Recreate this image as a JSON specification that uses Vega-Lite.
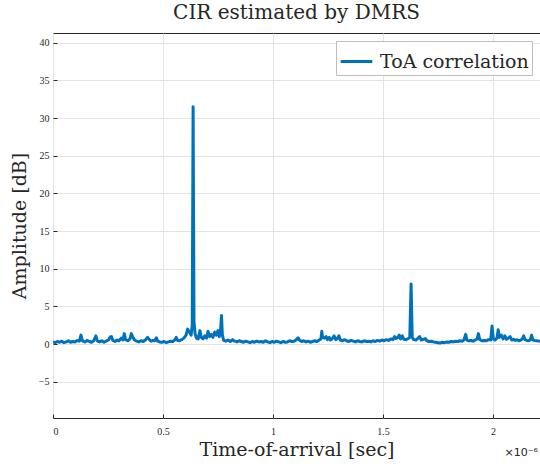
{
  "$schema": "https://vega.github.io/schema/vega-lite/v6.json",
  "autosize": {"type": "none"},
  "padding": {"left": 53, "top": 33, "right": 0, "bottom": 51},
  "width": 487,
  "height": 385,
  "background": "white",
  "config": {
    "font": "DejaVu Serif",
    "view": {"stroke": "#262626", "strokeWidth": 1},
    "axis": {"labelFont": "Liberation Serif", "labelFontSize": 10, "labelColor": "#262626", "gridColor": "#e3e3e3", "gridWidth": 1, "domain": false, "tickColor": "#262626", "tickSize": -4, "titleFont": "DejaVu Serif", "titleFontSize": 19, "titleFontWeight": "normal", "titleColor": "#262626"}
  },
  "title": {"text": "CIR estimated by DMRS", "font": "DejaVu Serif", "fontSize": 20, "fontWeight": "normal", "color": "#262626", "offset": 10},
  "layer": [
    {
      "data": {"values": [
    {"t":0.000,"a":0.30},{"t":0.010,"a":0.20},{"t":0.020,"a":0.35},{"t":0.030,"a":0.25},{"t":0.040,"a":0.40},{"t":0.050,"a":0.20},{"t":0.060,"a":0.30},{"t":0.070,"a":0.45},{"t":0.080,"a":0.25},{"t":0.090,"a":0.35},{"t":0.100,"a":0.30},{"t":0.110,"a":0.50},{"t":0.120,"a":0.40},{"t":0.127,"a":1.20},{"t":0.134,"a":0.45},{"t":0.145,"a":0.30},{"t":0.155,"a":0.50},{"t":0.165,"a":0.35},{"t":0.175,"a":0.25},{"t":0.185,"a":0.45},{"t":0.195,"a":1.10},{"t":0.202,"a":0.40},{"t":0.212,"a":0.30},{"t":0.222,"a":0.45},{"t":0.232,"a":0.25},{"t":0.242,"a":0.40},{"t":0.252,"a":0.55},{"t":0.260,"a":0.95},{"t":0.266,"a":1.00},{"t":0.272,"a":0.50},{"t":0.282,"a":0.35},{"t":0.292,"a":0.55},{"t":0.300,"a":0.45},{"t":0.310,"a":0.80},{"t":0.318,"a":0.55},{"t":0.324,"a":1.40},{"t":0.330,"a":0.60},{"t":0.340,"a":0.45},{"t":0.350,"a":0.70},{"t":0.356,"a":1.40},{"t":0.362,"a":1.00},{"t":0.370,"a":0.55},{"t":0.380,"a":0.40},{"t":0.390,"a":0.30},{"t":0.400,"a":0.45},{"t":0.410,"a":0.35},{"t":0.420,"a":0.55},{"t":0.430,"a":0.90},{"t":0.438,"a":0.60},{"t":0.446,"a":0.40},{"t":0.455,"a":0.50},{"t":0.462,"a":0.45},{"t":0.470,"a":0.85},{"t":0.476,"a":0.40},{"t":0.485,"a":0.30},{"t":0.495,"a":0.25},{"t":0.505,"a":0.35},{"t":0.515,"a":0.20},{"t":0.525,"a":0.30},{"t":0.535,"a":0.40},{"t":0.545,"a":0.35},{"t":0.555,"a":0.60},{"t":0.560,"a":0.90},{"t":0.566,"a":0.50},{"t":0.575,"a":0.45},{"t":0.585,"a":0.60},{"t":0.595,"a":0.80},{"t":0.605,"a":1.20},{"t":0.612,"a":2.00},{"t":0.620,"a":1.60},{"t":0.628,"a":1.20},{"t":0.633,"a":2.50},{"t":0.637,"a":31.5},{"t":0.641,"a":3.00},{"t":0.646,"a":1.40},{"t":0.652,"a":0.80},{"t":0.660,"a":0.70},{"t":0.668,"a":1.80},{"t":0.674,"a":0.90},{"t":0.682,"a":0.70},{"t":0.690,"a":1.10},{"t":0.698,"a":0.80},{"t":0.705,"a":1.70},{"t":0.712,"a":1.00},{"t":0.720,"a":1.30},{"t":0.727,"a":0.90},{"t":0.735,"a":1.60},{"t":0.742,"a":1.20},{"t":0.750,"a":1.80},{"t":0.756,"a":1.00},{"t":0.762,"a":2.00},{"t":0.766,"a":3.80},{"t":0.770,"a":1.20},{"t":0.776,"a":0.50},{"t":0.786,"a":0.40},{"t":0.796,"a":0.55},{"t":0.806,"a":0.35},{"t":0.816,"a":0.60},{"t":0.826,"a":0.40},{"t":0.836,"a":0.30},{"t":0.846,"a":0.45},{"t":0.856,"a":0.35},{"t":0.866,"a":0.25},{"t":0.876,"a":0.40},{"t":0.886,"a":0.30},{"t":0.896,"a":0.20},{"t":0.906,"a":0.35},{"t":0.916,"a":0.25},{"t":0.926,"a":0.40},{"t":0.936,"a":0.30},{"t":0.946,"a":0.35},{"t":0.956,"a":0.25},{"t":0.966,"a":0.45},{"t":0.976,"a":0.30},{"t":0.986,"a":0.20},{"t":0.996,"a":0.35},{"t":1.006,"a":0.25},{"t":1.016,"a":0.40},{"t":1.026,"a":0.30},{"t":1.036,"a":0.20},{"t":1.046,"a":0.35},{"t":1.056,"a":0.25},{"t":1.066,"a":0.30},{"t":1.076,"a":0.45},{"t":1.086,"a":0.35},{"t":1.096,"a":0.40},{"t":1.106,"a":0.60},{"t":1.114,"a":0.85},{"t":1.120,"a":0.55},{"t":1.130,"a":0.35},{"t":1.140,"a":0.45},{"t":1.150,"a":0.30},{"t":1.160,"a":0.40},{"t":1.170,"a":0.25},{"t":1.180,"a":0.35},{"t":1.190,"a":0.45},{"t":1.200,"a":0.35},{"t":1.210,"a":0.55},{"t":1.218,"a":0.70},{"t":1.222,"a":1.70},{"t":1.226,"a":0.90},{"t":1.234,"a":0.80},{"t":1.242,"a":1.00},{"t":1.248,"a":0.60},{"t":1.256,"a":0.90},{"t":1.262,"a":0.55},{"t":1.270,"a":0.75},{"t":1.278,"a":1.10},{"t":1.286,"a":0.60},{"t":1.294,"a":0.80},{"t":1.300,"a":1.10},{"t":1.306,"a":0.55},{"t":1.315,"a":0.45},{"t":1.325,"a":0.60},{"t":1.335,"a":0.45},{"t":1.345,"a":0.35},{"t":1.355,"a":0.50},{"t":1.365,"a":0.40},{"t":1.375,"a":0.30},{"t":1.385,"a":0.45},{"t":1.395,"a":0.35},{"t":1.405,"a":0.30},{"t":1.415,"a":0.45},{"t":1.425,"a":0.35},{"t":1.435,"a":0.40},{"t":1.445,"a":0.30},{"t":1.455,"a":0.45},{"t":1.465,"a":0.35},{"t":1.475,"a":0.50},{"t":1.485,"a":0.40},{"t":1.495,"a":0.55},{"t":1.505,"a":0.45},{"t":1.515,"a":0.60},{"t":1.525,"a":0.50},{"t":1.535,"a":0.70},{"t":1.545,"a":0.60},{"t":1.553,"a":1.00},{"t":1.560,"a":0.75},{"t":1.568,"a":0.90},{"t":1.574,"a":1.20},{"t":1.580,"a":0.70},{"t":1.588,"a":1.10},{"t":1.595,"a":0.65},{"t":1.605,"a":0.60},{"t":1.615,"a":0.75},{"t":1.622,"a":0.90},{"t":1.628,"a":8.00},{"t":1.633,"a":0.90},{"t":1.640,"a":0.60},{"t":1.650,"a":0.55},{"t":1.660,"a":0.80},{"t":1.667,"a":1.00},{"t":1.674,"a":0.55},{"t":1.684,"a":0.65},{"t":1.692,"a":0.75},{"t":1.700,"a":0.45},{"t":1.710,"a":0.35},{"t":1.720,"a":0.40},{"t":1.730,"a":0.30},{"t":1.740,"a":0.25},{"t":1.750,"a":0.20},{"t":1.760,"a":0.15},{"t":1.770,"a":0.25},{"t":1.780,"a":0.20},{"t":1.790,"a":0.30},{"t":1.800,"a":0.25},{"t":1.810,"a":0.35},{"t":1.820,"a":0.30},{"t":1.830,"a":0.40},{"t":1.840,"a":0.35},{"t":1.850,"a":0.45},{"t":1.860,"a":0.40},{"t":1.868,"a":0.55},{"t":1.876,"a":1.30},{"t":1.882,"a":0.55},{"t":1.890,"a":0.45},{"t":1.900,"a":0.50},{"t":1.910,"a":0.40},{"t":1.920,"a":0.55},{"t":1.928,"a":0.70},{"t":1.934,"a":1.40},{"t":1.940,"a":0.60},{"t":1.950,"a":0.45},{"t":1.960,"a":0.50},{"t":1.970,"a":0.45},{"t":1.980,"a":0.60},{"t":1.990,"a":0.55},{"t":1.996,"a":2.40},{"t":2.002,"a":0.70},{"t":2.010,"a":0.55},{"t":2.018,"a":0.80},{"t":2.024,"a":1.90},{"t":2.030,"a":0.90},{"t":2.038,"a":1.20},{"t":2.046,"a":0.70},{"t":2.054,"a":1.10},{"t":2.062,"a":0.65},{"t":2.070,"a":0.80},{"t":2.078,"a":1.00},{"t":2.086,"a":0.55},{"t":2.094,"a":0.65},{"t":2.102,"a":0.50},{"t":2.110,"a":0.60},{"t":2.118,"a":0.45},{"t":2.126,"a":0.55},{"t":2.134,"a":0.70},{"t":2.140,"a":1.10},{"t":2.146,"a":0.60},{"t":2.154,"a":0.50},{"t":2.162,"a":0.45},{"t":2.170,"a":0.60},{"t":2.176,"a":1.20},{"t":2.182,"a":0.55},{"t":2.190,"a":0.50},{"t":2.200,"a":0.45},{"t":2.214,"a":0.40}
      ]},
      "mark": {"type": "line", "strokeWidth": 3, "strokeJoin": "round", "clip": true},
      "encoding": {
        "x": {"field": "t", "type": "quantitative", "title": "Time-of-arrival [sec]",
              "scale": {"domain": [0, 2.214], "nice": false, "zero": false},
              "axis": {"values": [0, 0.5, 1, 1.5, 2], "format": "~g", "labelPadding": 12, "titlePadding": 4}},
        "y": {"field": "a", "type": "quantitative", "title": "Amplitude [dB]",
              "scale": {"domain": [-9.8, 41.3], "nice": false, "zero": false},
              "axis": {"values": [-5, 0, 5, 10, 15, 20, 25, 30, 35, 40], "labelPadding": 8, "titlePadding": 9}},
        "color": {"datum": "ToA correlation", "type": "nominal",
                  "scale": {"range": ["#0072BD"]},
                  "legend": {"title": null, "orient": "top-right", "offset": 8, "labelFont": "DejaVu Serif", "labelFontSize": 19, "labelColor": "#262626", "symbolType": "stroke", "symbolSize": 1000, "symbolStrokeWidth": 3, "strokeColor": "#bdbdbd", "fillColor": "white", "padding": 3, "labelOffset": 6, "labelLimit": 400}}
      }
    },
    {
      "data": {"values": [{"lbl": "×10⁻⁶"}]},
      "mark": {"type": "text", "fontSize": 11, "font": "DejaVu Sans", "color": "#262626", "clip": false, "align": "right", "baseline": "middle"},
      "encoding": {
        "text": {"field": "lbl", "type": "nominal"},
        "x": {"datum": 2.205, "type": "quantitative"},
        "y": {"datum": -14.4, "type": "quantitative"}
      }
    }
  ]
}
